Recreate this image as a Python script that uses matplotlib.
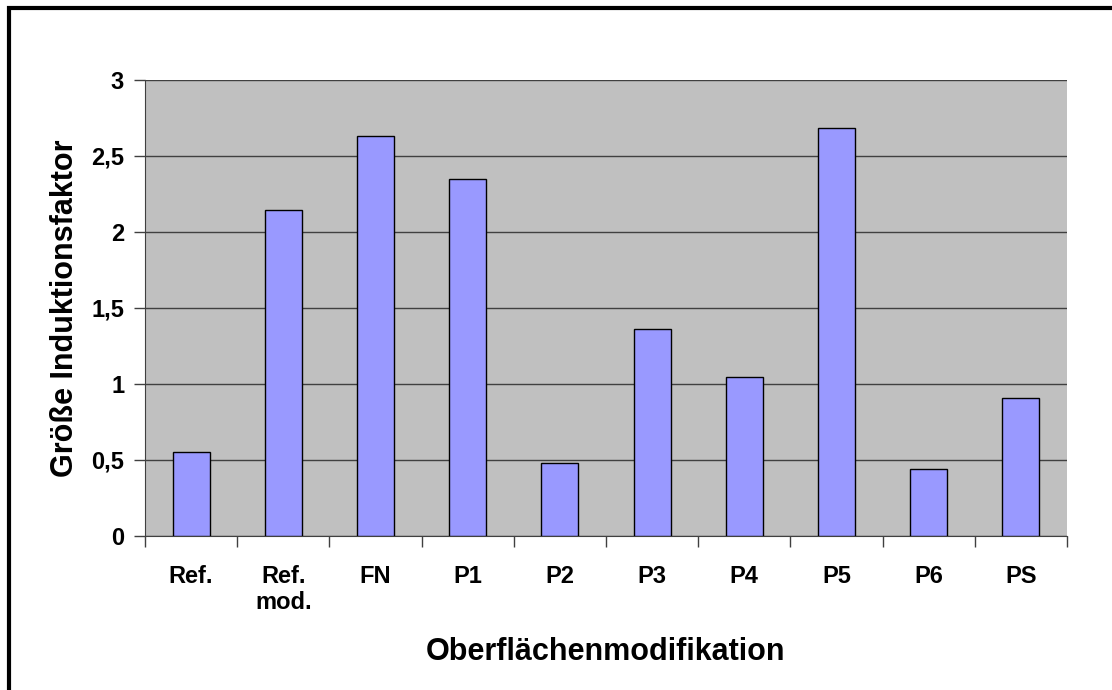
import matplotlib.pyplot as plt
from matplotlib.patches import Rectangle
from matplotlib.ticker import FuncFormatter, MultipleLocator

# data
categories = ['Ref.', 'Ref.\nmod.', 'FN', 'P1', 'P2', 'P3', 'P4', 'P5', 'P6', 'PS']
values = [0.555, 2.145, 2.63, 2.345, 0.48, 1.36, 1.045, 2.68, 0.44, 0.905]

plt.rcParams['font.family'] = ['Liberation Sans', 'DejaVu Sans']
plt.rcParams['font.weight'] = 'bold'

fig = plt.figure(figsize=(11.12, 6.9), dpi=100)
ax = fig.add_axes([0.1304, 0.2232, 0.8291, 0.6613])

x = list(range(len(categories)))
ax.bar(x, values, width=0.4, color='#9999FF', edgecolor='black', linewidth=1.0, zorder=3)

ax.set_facecolor('#C0C0C0')
ax.set_xlim(-0.5, len(categories) - 0.5)
ax.set_ylim(0, 3)
ax.yaxis.set_major_locator(MultipleLocator(0.5))
ax.yaxis.set_major_formatter(FuncFormatter(lambda v, p: ('%g' % v).replace('.', ',')))
ax.grid(axis='y', color='#404040', linewidth=1.0, zorder=1)

# category ticks sit between the bars, labels in the middle
ax.set_xticks([i - 0.5 for i in range(len(categories) + 1)])
ax.set_xticklabels([])
ax.set_xticks(x, minor=True)
ax.set_xticklabels(categories, minor=True, fontsize=17, fontweight='bold', linespacing=1.15)
ax.tick_params(axis='x', which='minor', length=0, pad=21)
ax.tick_params(axis='x', which='major', length=8, width=1, color='#404040')
ax.tick_params(axis='y', length=8, width=1, color='#404040', labelsize=17, pad=7)
for lbl in ax.get_yticklabels():
    lbl.set_fontweight('bold')

for side in ['top', 'right']:
    ax.spines[side].set_visible(False)
for side in ['left', 'bottom']:
    ax.spines[side].set_color('#404040')

ax.set_ylabel('Größe Induktionsfaktor', fontsize=22, fontweight='bold', labelpad=8)
ax.set_xlabel('Oberflächenmodifikation', fontsize=22, fontweight='bold', labelpad=17)

# outer frame (runs past the right and bottom edge like the original)
fig.patches.append(Rectangle((9 / 1112, -0.1), 1.2, (690 - 8) / 690 + 0.1,
                             transform=fig.transFigure, fill=False,
                             edgecolor='black', linewidth=3))

fig.savefig('out.png', dpi=100)
